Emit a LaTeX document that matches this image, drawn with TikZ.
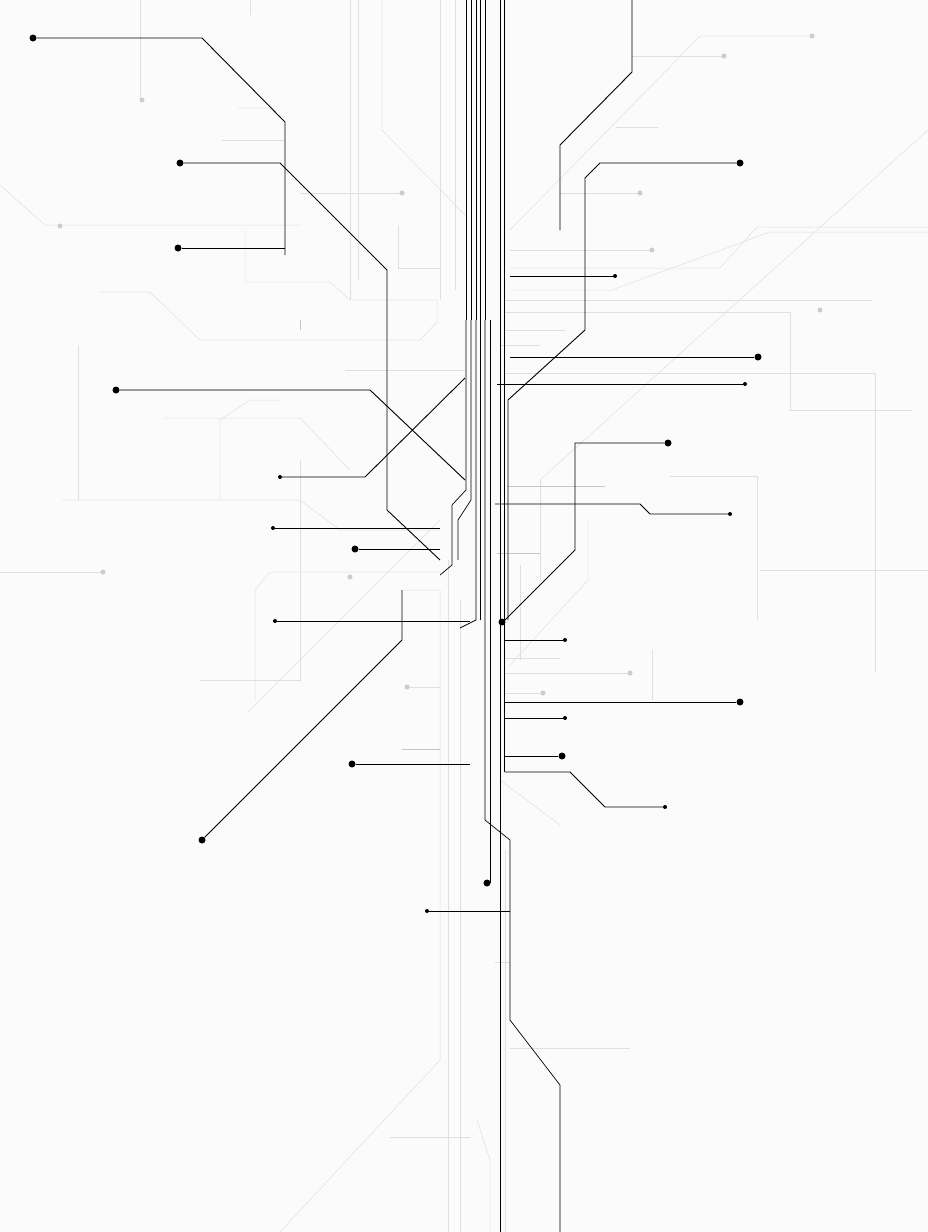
\documentclass[tikz,border=0pt]{standalone}
\begin{document}
\begin{tikzpicture}[x=1pt,y=-1pt,
 blk/.style={black,line width=0.9pt},
 gry/.style={gray!45,line width=0.5pt},
 lgt/.style={gray!25,line width=0.5pt},
 dot/.style={circle,fill=black,inner sep=0pt,minimum size=7pt},
 sdot/.style={circle,fill=black,inner sep=0pt,minimum size=4pt},
 gdot/.style={circle,fill=gray!40,inner sep=0pt,minimum size=6pt}]
\fill[white!97!gray] (0,0) rectangle (928,1232);
\useasboundingbox (0,0) rectangle (928,1232);
% light background lines
\draw[lgt] (0,185)--(45,225)--(300,225);
\draw[lgt] (100,292)--(150,292)--(200,340)--(420,340)--(437,322)--(437,300);
\draw[lgt] (245,230)--(245,282)--(330,282)--(350,300)--(437,300);
\draw[lgt] (0,572)--(103,572);
\draw[lgt] (62,500)--(300,500)--(340,530)--(440,530);
\draw[lgt] (78,345)--(78,500);
\draw[lgt] (220,500)--(220,420)--(250,400)--(280,400);
\draw[lgt] (165,418)--(300,418)--(350,470);
\draw[lgt] (300,460)--(300,680)--(200,680);
\draw[lgt] (255,700)--(255,590)--(270,572)--(440,572);
\draw[lgt] (248,712)--(440,520);
\draw[lgt] (140,0)--(140,100);
\draw[lgt] (250,0)--(250,15);
\draw[lgt] (238,108)--(270,108)--(285,122);
\draw[lgt] (222,140)--(285,140);
\draw[lgt] (300,193)--(402,193);
\draw[lgt] (350,0)--(350,300);
\draw[lgt] (358,0)--(358,280);
\draw[lgt] (382,0)--(382,130)--(465,215);
\draw[lgt] (398,225)--(398,268)--(440,268);
\draw[lgt] (345,370)--(465,370);
\draw[lgt] (440,0)--(440,300);
\draw[lgt] (455,0)--(455,290);
\draw[lgt] (403,590)--(440,590)--(440,1060)--(280,1232);
\draw[lgt] (448,560)--(448,1232);
\draw[lgt] (460,600)--(460,1232);
\draw[lgt] (405,687)--(440,687);
\draw[lgt] (390,1137)--(470,1137);
\draw[lgt] (477,1120)--(490,1160)--(490,1232);
\draw[lgt] (510,230)--(700,36)--(812,36);
\draw[lgt] (632,56)--(724,56);
\draw[lgt] (616,127)--(658,127);
\draw[lgt] (510,250)--(652,250);
\draw[lgt] (510,268)--(720,268)--(757,227)--(928,227);
\draw[lgt] (510,290)--(612,290)--(770,232)--(928,232);
\draw[lgt] (505,300)--(872,300);
\draw[lgt] (505,312)--(790,312)--(790,410)--(912,410);
\draw[lgt] (505,330)--(565,330);
\draw[lgt] (500,345)--(540,345);
\draw[lgt] (560,193)--(640,193);
\draw[lgt] (505,373)--(875,373)--(875,672);
\draw[lgt] (540,480)--(928,130);
\draw[lgt] (540,480)--(540,580);
\draw[lgt] (520,565)--(520,660);
\draw[lgt] (588,520)--(588,580)--(510,665);
\draw[lgt] (670,476)--(757,476)--(757,620);
\draw[lgt] (760,570)--(928,570);
\draw[lgt] (505,658)--(560,658);
\draw[lgt] (505,673)--(630,673);
\draw[lgt] (505,693)--(543,693);
\draw[lgt] (652,650)--(652,700);
\draw[lgt] (505,718)--(565,718);
\draw[lgt] (500,780)--(560,825);
\draw[lgt] (510,1048)--(630,1048);
\draw[lgt] (505,1232)--(505,850);
\draw[lgt] (495,962)--(510,962);
% grey dots
\foreach \p in {(142,100),(60,226),(402,193),(103,572),(350,577),(407,687),(543,693),(630,673),(640,193),(652,250),(812,36),(724,56),(820,310)}
  \node[gdot,minimum size=5pt] at \p {};
% grey medium lines
\draw[gry] (115,390)--(370,390)--(465,480);
\draw[gry] (300,320)--(300,330);
\draw[gry] (507,486)--(605,486);
\draw[gry] (497,553)--(540,553);
\draw[gry] (402,749)--(440,749);
% main vertical bundle
\foreach \x in {466,471,476,480,485,500,504}
  \draw[blk,line width=0.7pt] (\x,0)--(\x,320);
\draw[blk,line width=0.7pt] (466,320)--(466,490)--(452,505)--(452,565)--(440,575);
\draw[blk,line width=0.7pt] (471,320)--(471,500)--(458,520)--(458,560);
\draw[blk,line width=0.7pt] (476,320)--(476,620)--(460,628);
\draw[blk,line width=0.7pt] (480,320)--(480,620);
\draw[blk,line width=0.7pt] (485,320)--(485,820)--(510,840)--(510,1020)--(560,1085)--(560,1232);
\draw[blk,line width=0.7pt] (490,320)--(490,883);
\draw[blk,line width=0.7pt] (500,320)--(500,1232);
\draw[blk,line width=0.7pt] (504,320)--(504,772);
% black connectors
\node[dot] (a1) at (33,38) {};
\draw[blk] (a1)--(202,38)--(285,122)--(285,255);
\node[dot] (a2) at (180,163) {};
\draw[blk] (a2)--(280,163)--(387,270)--(387,510)--(440,560);
\node[dot] (a3) at (178,248) {};
\draw[blk] (a3)--(285,248);
\node[dot] (a4) at (116,390) {};
\draw[blk] (a4)--(370,390)--(465,480);
\node[sdot] (a5) at (280,477) {};
\draw[blk] (a5)--(365,477)--(465,378);
\node[dot] (a6) at (355,549) {};
\draw[blk] (a6)--(440,549);
\node[sdot] (a7) at (273,528) {};
\draw[blk] (a7)--(440,528);
\node[sdot] (a8) at (275,621) {};
\draw[blk] (a8)--(470,621);
\node[dot] (a9) at (352,764) {};
\draw[blk] (a9)--(470,764);
\node[dot] (a10) at (202,840) {};
\draw[blk] (a10)--(402,640)--(402,590);
\node[sdot] (a11) at (427,911) {};
\draw[blk] (a11)--(510,911);
\node[dot] (a12) at (487,883) {};
\draw[blk] (632,0)--(632,72)--(560,145)--(560,230);
\node[dot] (b1) at (740,163) {};
\draw[blk] (b1)--(600,163)--(585,178)--(585,330)--(508,400)--(508,620);
\node[dot] (b2) at (668,443) {};
\draw[blk] (b2)--(575,443)--(575,550)--(505,620);
\node[dot] (b0) at (502,622) {};
\node[sdot] (b3) at (745,384) {};
\draw[blk] (b3)--(497,384);
\node[dot] (b4) at (758,357) {};
\draw[blk] (b4)--(510,357);
\node[sdot] (b5) at (615,276) {};
\draw[blk] (b5)--(510,276);
\node[sdot] (b6) at (730,514) {};
\draw[blk] (b6)--(650,514)--(640,504)--(495,504);
\node[sdot] (b7) at (565,640) {};
\draw[blk] (b7)--(505,640);
\node[dot] (b8) at (740,702) {};
\draw[blk] (b8)--(505,702);
\node[dot] (b9) at (562,756) {};
\draw[blk] (b9)--(505,756);
\node[sdot] (b10) at (665,807) {};
\draw[blk] (b10)--(605,807)--(570,772)--(505,772);
\node[sdot] (b11) at (565,718) {};
\draw[blk,line width=0.4pt] (b11)--(505,718);
\end{tikzpicture}
\end{document}
